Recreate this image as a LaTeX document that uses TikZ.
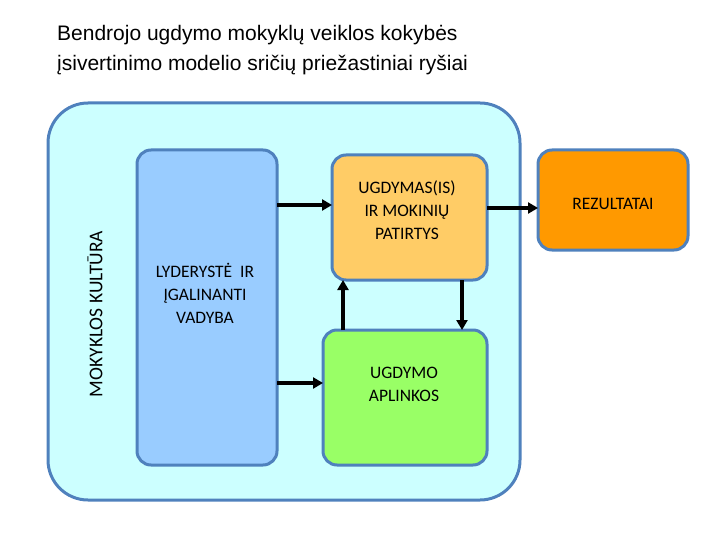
\documentclass[tikz,border=0pt]{standalone}
\usepackage{fontspec}
\setmainfont{Liberation Sans}
\newfontfamily\carl{Carlito}
\usetikzlibrary{arrows.meta}
\begin{document}
\begin{tikzpicture}[x=1pt,y=-1pt,
 box/.style={line width=3pt,rounded corners=14pt},
 lbl/.style={font=\carl\fontsize{17.5}{23}\selectfont,align=center},
 arr/.style={-{Triangle[length=10pt,width=11pt]},line width=3.3pt}]
\useasboundingbox (0,0) rectangle (720,540);
\node[anchor=north west,align=left,font=\fontsize{21}{30}\selectfont,inner sep=0] (t) at (57,25) {Bendrojo ugdymo mokyklų veiklos kokybės\\įsivertinimo modelio sričių priežastiniai ryšiai};
\draw[box,fill={rgb,255:red,204;green,255;blue,255},draw={rgb,255:red,79;green,129;blue,189},rounded corners=40pt] (48,103) rectangle (520,500);
\node[rotate=90,lbl,font=\carl\fontsize{19.5}{23}\selectfont] (k) at (95,314) {MOKYKLOS KULTŪRA};
\draw[box,fill={rgb,255:red,153;green,204;blue,255},draw={rgb,255:red,79;green,129;blue,189}] (137,150) rectangle (277,465);
\coordinate (bt) at (277,205); \coordinate (bb) at (277,383);
\node[lbl] (v) at (205,293) {LYDERYSTĖ \ IR\\ĮGALINANTI\\VADYBA};
\draw[box,fill={rgb,255:red,255;green,204;blue,102},draw={rgb,255:red,79;green,129;blue,189}] (332,155) rectangle (487,280);
\node[lbl] (o) at (407,210) {UGDYMAS(IS)\\IR MOKINIŲ\\PATIRTYS};
\draw[box,fill={rgb,255:red,153;green,255;blue,102},draw={rgb,255:red,79;green,129;blue,189}] (323,330) rectangle (487,465);
\node[lbl] (g) at (404,384) {UGDYMO\\APLINKOS};
\draw[box,fill={rgb,255:red,255;green,153;blue,0},draw={rgb,255:red,79;green,129;blue,189}] (538,150) rectangle (688,250);
\node[lbl] (r) at (613,204) {REZULTATAI};
\coordinate (o1) at (332,205); \coordinate (g1) at (323,383);
\coordinate (o2) at (487,208); \coordinate (r1) at (538,208);
\coordinate (ga) at (343,330); \coordinate (ob) at (343,280);
\coordinate (oc) at (462,280); \coordinate (gb) at (462,330);
\draw[arr] (bt) -- (o1);
\draw[arr] (bb) -- (g1);
\draw[arr] (o2) -- (r1);
\draw[arr] (ga) -- (ob);
\draw[arr] (oc) -- (gb);
\end{tikzpicture}
\end{document}
